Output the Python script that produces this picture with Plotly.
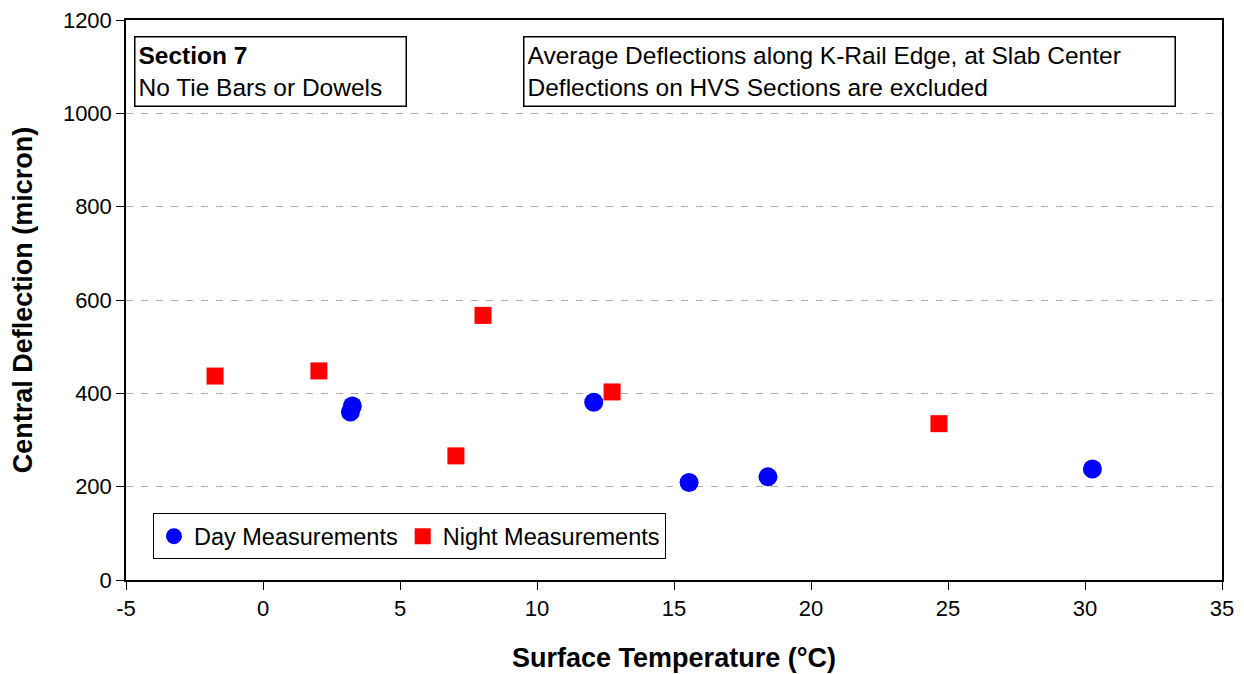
import plotly.graph_objects as go

day_temp = [3.19, 3.26, 12.07, 15.55, 18.43, 30.27]
day_defl = [360, 373, 381, 209, 221, 238]
night_temp = [-1.75, 2.04, 8.03, 7.04, 12.74, 24.67]
night_defl = [437, 448, 567, 266, 403, 335]

x_ticks = [-5, 0, 5, 10, 15, 20, 25, 30, 35]
x_tick_labels = ["-5", "0", "5", "10", "15", "20", "25", "30", "35"]
y_ticks = [0, 200, 400, 600, 800, 1000, 1200]
y_tick_labels = ["0", "200", "400", "600", "800", "1000", "1200"]

FONT = "Liberation Sans, Arial, sans-serif"

fig = go.Figure()
fig.add_trace(go.Scatter(x=day_temp, y=day_defl, mode="markers", name="Day Measurements",
                         marker=dict(symbol="circle", size=19, color="#0000FF")))
fig.add_trace(go.Scatter(x=night_temp, y=night_defl, mode="markers", name="Night Measurements",
                         marker=dict(symbol="square", size=17, color="#FF0000")))

fig.update_layout(
    width=1244, height=674,
    margin=dict(l=118, r=30, t=12, b=102, autoexpand=False),
    plot_bgcolor="white", paper_bgcolor="white",
    font=dict(family=FONT, size=22, color="black"),
    showlegend=True,
    legend=dict(x=0.0246, y=0.119, xanchor="left", yanchor="top", orientation="h",
                bordercolor="black", borderwidth=1, bgcolor="white",
                font=dict(size=23.5), itemwidth=30, tracegroupgap=0),
    xaxis=dict(range=[-5, 35], tickvals=x_ticks, ticktext=x_tick_labels, showgrid=False, zeroline=False,
               showline=True, linecolor="black", linewidth=1.5, mirror=True, automargin=False,
               ticks="outside", ticklen=8, tickcolor="black", tickfont=dict(size=22),
               ticklabeloverflow="allow",
               title=dict(text="<b>Surface Temperature (°C)</b>", font=dict(size=27), standoff=28)),
    yaxis=dict(range=[0, 1200], tickvals=y_ticks, ticktext=y_tick_labels, showgrid=True, gridcolor="#AAAAAA",
               griddash="7px,8px", gridwidth=1, zeroline=False, automargin=False,
               showline=True, linecolor="black", linewidth=1.5, mirror=True,
               ticks="outside", ticklen=8, tickcolor="black", tickfont=dict(size=22),
               ticklabeloverflow="allow",
               title=dict(text="<b>Central Deflection (micron)</b>", font=dict(size=27), standoff=24)),
    annotations=[
        dict(xref="paper", yref="paper", x=0.0073, y=0.971, xanchor="left", yanchor="top",
             text="<b>Section 7</b><br>No Tie Bars or Dowels", showarrow=False, align="left",
             width=264, height=62,
             bordercolor="black", borderwidth=1.5, borderpad=3, bgcolor="white",
             font=dict(size=24.5)),
        dict(xref="paper", yref="paper", x=0.362, y=0.971, xanchor="left", yanchor="top",
             text="Average Deflections along K-Rail Edge, at Slab Center<br>Deflections on HVS Sections are excluded",
             showarrow=False, align="left",
             width=644, height=62,
             bordercolor="black", borderwidth=1.5, borderpad=3, bgcolor="white",
             font=dict(size=24.5)),
    ],
)

fig.write_html("out.html")
